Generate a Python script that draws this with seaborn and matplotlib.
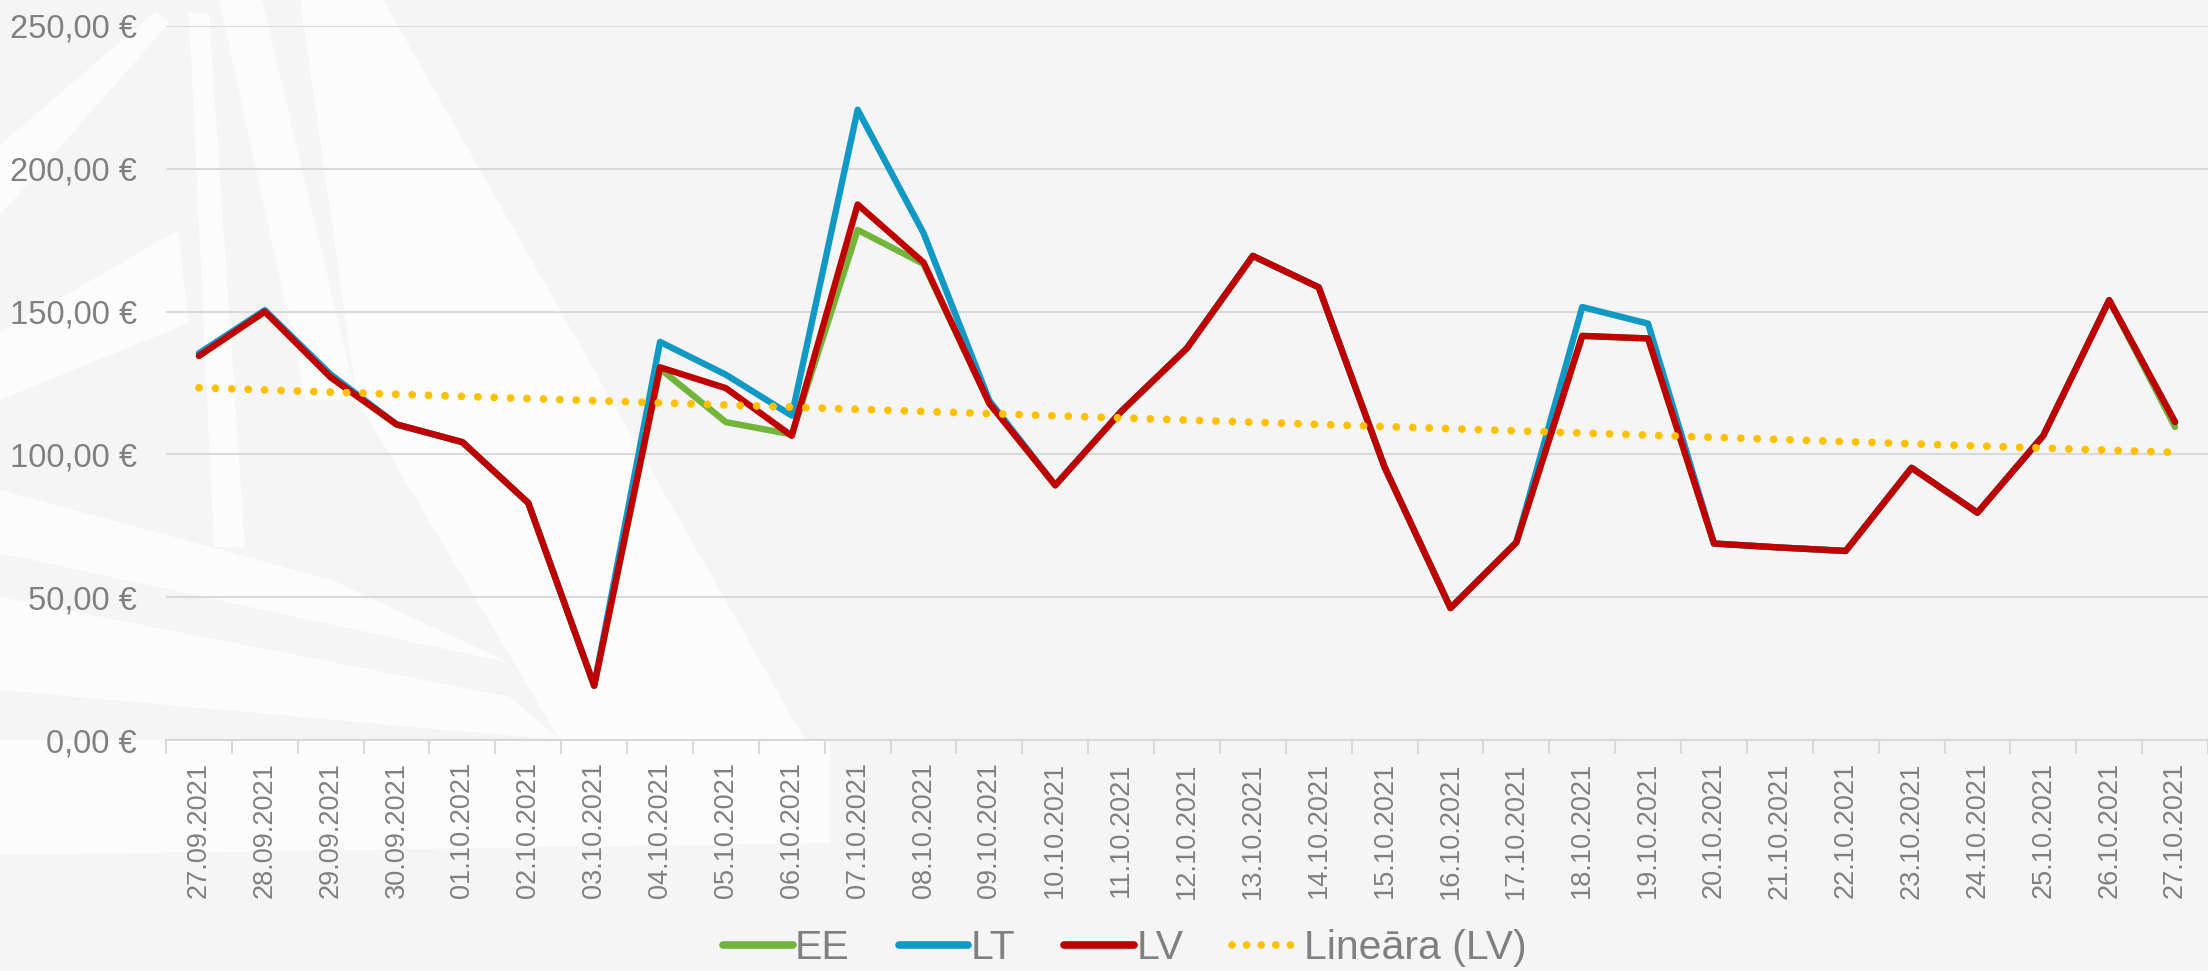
import numpy as np
import pandas as pd
import matplotlib
matplotlib.use('Agg')
import matplotlib.pyplot as plt
from matplotlib.patches import Polygon
from matplotlib.lines import Line2D
import seaborn as sns

# dati (EUR/MWh), 27.09.2021 - 27.10.2021
dates = list(pd.date_range('2021-09-27', '2021-10-27').strftime('%d.%m.%Y'))

lv = [134.5, 150.0, 127.0, 110.5, 104.3, 83.0, 19.0, 130.5, 123.2, 106.5,
      187.5, 167.2, 117.8, 89.2, 115.0, 137.2, 169.5, 158.5, 95.5, 46.2,
      69.2, 141.5, 140.6, 68.8, 67.4, 66.2, 95.3, 79.6, 106.6, 154.0, 111.3]
lt = [135.4, 150.5, 128.0, 110.5, 104.3, 83.0, 19.0, 139.4, 127.9, 113.6,
      220.7, 177.5, 118.8, 89.2, 115.0, 137.2, 169.5, 158.5, 95.5, 46.2,
      69.2, 151.6, 145.8, 68.8, 67.4, 66.2, 95.3, 79.6, 106.6, 154.0, 111.3]
ee = [134.5, 150.0, 127.0, 110.5, 104.3, 83.0, 19.0, 130.0, 111.3, 107.0,
      178.6, 166.7, 117.8, 89.2, 115.0, 137.2, 169.5, 158.5, 95.5, 46.2,
      69.2, 141.5, 140.6, 68.8, 67.4, 66.2, 95.3, 79.6, 106.6, 154.0, 109.6]

series = ['EE', 'LT', 'LV']
colors = {'EE': '#72b53a', 'LT': '#1199c6', 'LV': '#c00000'}
trend_color = '#ffc000'
grey = '#808080'
bg = '#f5f5f5'

W, H = 2208, 971
fig = plt.figure(figsize=(W / 100, H / 100), dpi=100, facecolor=bg)

# fona logo (baltas joslas kreisajā pusē)
def px(pts):
    return [(x / W, 1 - y / H) for x, y in pts]

logo = [
    [(0, 145), (0, 215), (170, 22), (155, 12)],
    [(0, 333), (0, 400), (189, 323), (178, 230)],
    [(189, 13), (209, 13), (245, 547), (214, 547)],
    [(219, 0), (262, 0), (357, 400), (306, 400)],
    [(300, 0), (383, 0), (805, 740), (560, 740), (357, 400)],
    [(0, 490), (0, 553), (510, 663), (332, 580)],
    [(0, 597), (0, 690), (560, 740), (510, 697)],
    [(0, 740), (830, 740), (830, 843), (0, 855)],
]
for p in logo:
    fig.add_artist(Polygon(px(p), closed=True, transform=fig.transFigure,
                           facecolor='white', edgecolor='none', alpha=0.8, zorder=0))

ax = fig.add_axes([166 / W, 1 - 740 / H, 1 - 166 / W, (740 - 26) / H])
ax.set_facecolor('none')

df = pd.DataFrame({'idx': list(range(len(dates))) * 3,
                   'value': ee + lt + lv,
                   'country': [s for s in series for _ in dates]})
sns.lineplot(data=df, x='idx', y='value', hue='country', hue_order=series,
             palette=colors, ax=ax, legend=False)
for ln in ax.lines:
    ln.set_linewidth(4.6)
    ln.set_solid_joinstyle('round')
    ln.set_solid_capstyle('round')

# lineāra tendence (LV)
x = np.arange(len(dates))
k, b = np.polyfit(x, lv, 1)
ax.plot(x, k * x + b, color=trend_color, linewidth=5.6, linestyle=(0, (0.01, 2.1)),
        dash_capstyle='round', zorder=5)

ax.set_xlim(-0.5, len(dates) - 0.5)
ax.set_ylim(0, 250)
yt = np.arange(0, 251, 50)
ax.set_yticks(yt)
ax.set_yticklabels([f'{v:.2f} €'.replace('.', ',') for v in yt],
                   family='Liberation Sans', fontsize=23.5, color=grey)
ax.set_xticks(x)
ax.set_xticklabels(dates, rotation=90, family='Liberation Sans', fontsize=19.5, color=grey)
ax.set_xticks(np.arange(-0.5, len(dates), 1), minor=True)
ax.tick_params(axis='x', which='major', length=0, pad=16)
ax.tick_params(axis='x', which='minor', length=10, width=1.5, color='#d9d9d9')
ax.tick_params(axis='y', length=0, pad=21)
ax.grid(axis='y', color='#d9d9d9', linewidth=1.5)
ax.set_axisbelow(True)
for s in ['top', 'right', 'left']:
    ax.spines[s].set_visible(False)
ax.spines['bottom'].set_color('#d9d9d9')
ax.spines['bottom'].set_linewidth(1.5)
ax.set_xlabel('')
ax.set_ylabel('')

handles = [Line2D([], [], color=colors[s], linewidth=5.5, solid_capstyle='round') for s in series]
handles.append(Line2D([], [], color=trend_color, linewidth=5.5, linestyle=(0, (0.01, 1.9)),
                      dash_capstyle='round'))
leg = fig.legend(handles, series + ['Lineāra (LV)'], loc='center', ncol=4,
                 bbox_to_anchor=(1125 / W, 1 - 948 / H), frameon=False,
                 prop={'family': 'Liberation Sans', 'size': 29.5},
                 handlelength=1.7, handletextpad=0.05, columnspacing=1.2)
for t in leg.get_texts():
    t.set_color(grey)

fig.savefig('out.png', dpi=100, facecolor=fig.get_facecolor())
